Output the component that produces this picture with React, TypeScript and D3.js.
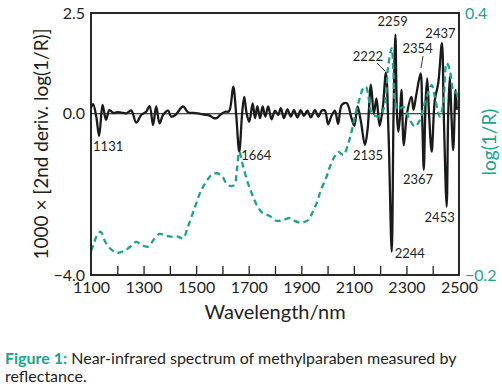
import React, { useEffect, useRef } from 'react';
import * as d3 from 'd3';

// 2nd derivative spectrum (wavelength nm, 1000 x 2nd deriv. log(1/R))
const derivWavelengths = [
  1100, 1108, 1120, 1131, 1144, 1157, 1170, 1185, 1200, 1215, 1234, 1253, 1272, 1291, 1310, 1323,
  1336, 1348, 1361, 1374, 1393, 1405, 1421, 1450, 1469, 1490, 1507, 1530, 1550, 1565, 1577, 1591,
  1610, 1625, 1641, 1652, 1664, 1675, 1683, 1692, 1702, 1715, 1724, 1733, 1743, 1753, 1763, 1774,
  1787, 1800, 1812, 1822, 1834, 1847, 1860, 1872, 1885, 1898, 1910, 1923, 1936, 1952, 1965, 1978,
  1990, 2002, 2015, 2028, 2040, 2054, 2073, 2091, 2102, 2114, 2127, 2142, 2152, 2165, 2176, 2186,
  2198, 2210, 2222, 2232, 2244, 2251, 2258, 2264, 2269, 2275, 2281, 2290, 2302, 2319, 2327, 2337,
  2354, 2360, 2366, 2373, 2379, 2386, 2396, 2408, 2421, 2435, 2442, 2453, 2459, 2465, 2471, 2478,
  2487, 2492,
];
const derivValues = [
  0.15, 0.24, -0.07, -0.55, 0.22, -0.15, 0.09, 0.02, 0.04, 0.03, 0.01, 0.08, -0.22, -0.03, 0.05, 0.19,
  -0.28, 0.18, -0.24, -0.03, 0.08, -0.07, -0.03, 0.18, 0.04, 0.02, 0.01, -0.02, -0.04, -0.1, -0.11, -0.03,
  0.05, 0.06, 0.67, 0.01, -0.94, 0.01, 0.42, 0.01, -0.2, 0.26, -0.11, 0.19, -0.11, 0.18, -0.07, 0.18,
  -0.14, 0.08, -0.03, 0.14, -0.11, 0.11, -0.07, 0.09, -0.09, 0.09, -0.05, 0.08, -0.09, 0.09, -0.07, 0.08,
  0.08, -0.26, -0.05, 0.08, -0.25, 0.22, 0.26, -0.11, -0.3, 0.18, -0.2, -0.77, -0.4, 0.72, 0.0, 0.38,
  -0.3, 0.15, 1.02, -0.5, -3.42, 0.0, 1.96, 0.0, -0.45, -0.1, 0.6, -0.78, 0.0, 0.42, 0.1, 0.45,
  1.0, -0.1, -1.39, 0.3, 0.88, 0.0, -0.94, 0.34, 0.76, 1.75, 0.0, -2.3, 0.0, 0.92, 0.0, -0.9,
  0.59, 0.1,
];

// Reflectance spectrum log(1/R)
const absWavelengths = [
  1100, 1110, 1122, 1137, 1155, 1180, 1203, 1228, 1250, 1272, 1295, 1317, 1340, 1361, 1385, 1405,
  1430, 1450, 1469, 1495, 1520, 1540, 1558, 1580, 1600, 1615, 1629, 1645, 1655, 1664, 1679, 1700,
  1717, 1735, 1755, 1780, 1806, 1830, 1857, 1875, 1895, 1910, 1927, 1940, 1958, 1975, 1996, 2009,
  2030, 2041, 2060, 2079, 2092, 2104, 2120, 2136, 2146, 2155, 2161, 2168, 2187, 2200, 2212, 2222,
  2231, 2244, 2250, 2256, 2269, 2288, 2313, 2332, 2351, 2365, 2377, 2396, 2408, 2427, 2440, 2453,
  2465, 2478, 2491, 2500,
];
const absValues = [
  -0.145, -0.13, -0.11, -0.101, -0.125, -0.143, -0.149, -0.144, -0.135, -0.124, -0.132, -0.135, -0.118, -0.106, -0.11, -0.112,
  -0.112, -0.116, -0.089, -0.045, -0.005, 0.015, 0.029, 0.033, 0.025, 0.01, 0.004, 0.006, 0.04, 0.082, 0.048, 0.005,
  -0.021, -0.045, -0.059, -0.065, -0.076, -0.074, -0.07, -0.076, -0.08, -0.079, -0.074, -0.06, -0.036, -0.005, 0.025, 0.048,
  0.075, 0.082, 0.075, 0.102, 0.13, 0.163, 0.2, 0.228, 0.231, 0.21, 0.185, 0.17, 0.163, 0.165, 0.178, 0.21,
  0.28, 0.319, 0.269, 0.2, 0.178, 0.185, 0.155, 0.14, 0.155, 0.185, 0.208, 0.235, 0.208, 0.163, 0.193, 0.285,
  0.27, 0.224, 0.216, 0.178,
];

const peakLabels = [1131, 1664, 2135, 2222, 2244, 2259, 2354, 2367, 2437, 2453];
const xTickLabels = [1100, 1300, 1500, 1700, 1900, 2100, 2300, 2500];
const leftTickLabels = [2.5, 0.0, -4.0];
const rightTickLabels = [0.4, -0.2];

const TEAL = '#17a58a';
const INK = '#231f20';
const FONT = 'Lato, "Open Sans", sans-serif';

// label placement: x offset from the peak wavelength, baseline y, anchor
const labelLayout: Record<number, [number, number, string]> = {
  1131: [9, 151, 'middle'],
  1664: [2, 160, 'start'],
  2135: [5, 160, 'middle'],
  2222: [-18, 61, 'middle'],
  2244: [3, 258, 'start'],
  2259: [-3, 26, 'middle'],
  2354: [-3, 53, 'middle'],
  2367: [-6, 184, 'middle'],
  2437: [-2, 38, 'middle'],
  2453: [-7, 222, 'middle'],
};

function App() {
  const svgRef = useRef<SVGSVGElement>(null);
  const width = 502;
  const height = 388;

  useEffect(() => {
    if (!svgRef.current) return;
    const svg = d3.select(svgRef.current);
    svg.selectAll('*').remove();

    const margin = { top: 13, right: 43, bottom: 113, left: 91 };
    const innerW = width - margin.left - margin.right;
    const innerH = height - margin.top - margin.bottom;

    const x = d3.scaleLinear().domain([1100, 2500]).range([margin.left, margin.left + innerW]);
    const yL = d3.scaleLinear().domain([-4, 2.5]).range([margin.top + innerH, margin.top]);
    const yR = d3.scaleLinear().domain([-0.2, 0.4]).range([margin.top + innerH, margin.top]);

    const deriv = derivWavelengths.map((w, i) => [w, derivValues[i]] as [number, number]);
    const abs = absWavelengths.map((w, i) => [w, absValues[i]] as [number, number]);

    svg.append('defs').append('clipPath').attr('id', 'plotclip')
      .append('rect')
      .attr('x', margin.left).attr('y', margin.top)
      .attr('width', innerW).attr('height', innerH);

    // zero line
    svg.append('line')
      .attr('x1', margin.left).attr('x2', margin.left + innerW)
      .attr('y1', yL(0)).attr('y2', yL(0))
      .attr('stroke', '#111').attr('stroke-width', 1.1);

    const plot = svg.append('g').attr('clip-path', 'url(#plotclip)');

    const derivLine = d3.line<[number, number]>()
      .x(d => x(d[0])).y(d => yL(d[1]))
      .curve(d3.curveCatmullRom.alpha(0.5));
    plot.append('path')
      .datum(deriv)
      .attr('d', derivLine)
      .attr('fill', 'none')
      .attr('stroke', '#1a1a1a')
      .attr('stroke-width', 2.3)
      .attr('stroke-linejoin', 'round');

    const absLine = d3.line<[number, number]>()
      .x(d => x(d[0])).y(d => yR(d[1]))
      .curve(d3.curveCatmullRom.alpha(0.5));
    plot.append('path')
      .datum(abs)
      .attr('d', absLine)
      .attr('fill', 'none')
      .attr('stroke', TEAL)
      .attr('stroke-width', 2.3)
      .attr('stroke-dasharray', '6,4');

    // frame
    svg.append('rect')
      .attr('x', margin.left).attr('y', margin.top)
      .attr('width', innerW).attr('height', innerH)
      .attr('fill', 'none').attr('stroke', '#111').attr('stroke-width', 1.8);

    // inward ticks on the wavelength axis
    const tickG = svg.append('g')
      .attr('transform', `translate(0,${margin.top + innerH})`)
      .call(d3.axisTop(x).tickValues(d3.range(1200, 2500, 100)).tickSize(9).tickFormat(() => ''));
    tickG.select('.domain').remove();
    tickG.selectAll('line').attr('stroke', '#222').attr('stroke-width', 1.3);

    const xAxis = svg.append('g')
      .attr('transform', `translate(0,${margin.top + innerH})`)
      .call(d3.axisBottom(x).tickValues(xTickLabels).tickSize(0).tickPadding(7).tickFormat(d3.format('d')));
    xAxis.select('.domain').remove();
    xAxis.selectAll('text')
      .style('font-family', FONT).style('font-size', '16px').attr('fill', INK);

    const leftAxis = svg.append('g')
      .attr('transform', `translate(${margin.left},0)`)
      .call(d3.axisLeft(yL).tickValues(leftTickLabels).tickSize(0).tickPadding(6).tickFormat(d3.format('.1f')));
    leftAxis.select('.domain').remove();
    leftAxis.selectAll('text')
      .style('font-family', FONT).style('font-size', '16px').attr('fill', INK);

    const rightAxis = svg.append('g')
      .attr('transform', `translate(${margin.left + innerW},0)`)
      .call(d3.axisRight(yR).tickValues(rightTickLabels).tickSize(0).tickPadding(6).tickFormat(d3.format('.1f')));
    rightAxis.select('.domain').remove();
    rightAxis.selectAll('text')
      .style('font-family', FONT).style('font-size', '16px').attr('fill', TEAL);

    // peak labels
    peakLabels.forEach(p => {
      const [dx, by, anchor] = labelLayout[p];
      svg.append('text')
        .attr('x', x(p) + dx).attr('y', by)
        .attr('text-anchor', anchor)
        .style('font-family', FONT).style('font-size', '13px')
        .attr('fill', INK)
        .text(p);
    });

    // leader lines
    svg.append('line').attr('x1', 377).attr('y1', 63).attr('x2', 385).attr('y2', 71)
      .attr('stroke', INK).attr('stroke-width', 0.9);
    svg.append('line').attr('x1', 423).attr('y1', 56).attr('x2', 421).attr('y2', 68)
      .attr('stroke', INK).attr('stroke-width', 0.9);

    // axis titles
    svg.append('text')
      .attr('x', 275).attr('y', 319)
      .attr('text-anchor', 'middle')
      .style('font-family', FONT).style('font-size', '20px').attr('fill', INK)
      .text('Wavelength/nm');

    svg.append('text')
      .attr('transform', `translate(48,${margin.top + innerH / 2}) rotate(-90)`)
      .attr('text-anchor', 'middle')
      .style('font-family', FONT).style('font-size', '19px').attr('fill', INK)
      .text('1000 × [2nd deriv. log(1/R)]');

    svg.append('text')
      .attr('transform', `translate(496,142) rotate(-90)`)
      .attr('text-anchor', 'middle')
      .style('font-family', FONT).style('font-size', '19px').attr('fill', TEAL)
      .text('log(1/R)');

    // caption
    const cap = svg.append('text')
      .attr('x', 5).attr('y', 364)
      .style('font-family', FONT).style('font-size', '16px').attr('fill', INK);
    cap.append('tspan').attr('fill', TEAL).style('font-weight', 'bold').text('Figure 1:');
    cap.append('tspan').text(' Near-infrared spectrum of methylparaben measured by');
    svg.append('text')
      .attr('x', 5).attr('y', 382)
      .style('font-family', FONT).style('font-size', '16px').attr('fill', INK)
      .text('reflectance.');
  }, []);

  return (
    <svg ref={svgRef} width={width} height={height}
      style={{ position: 'absolute', left: 0, top: 0, background: '#fff' }} />
  );
}

export default App;
